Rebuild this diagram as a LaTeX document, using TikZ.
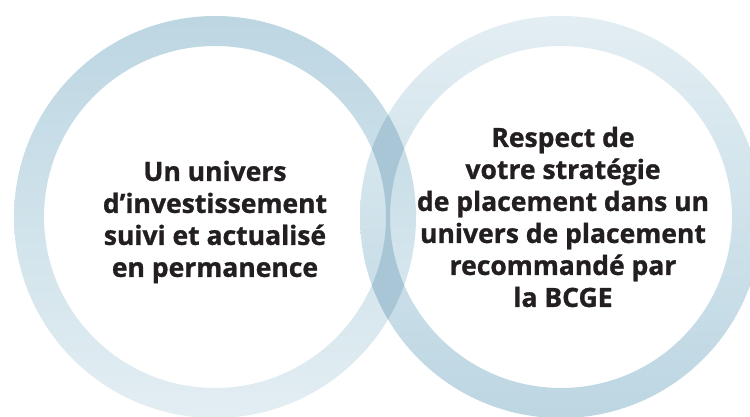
\documentclass[tikz,border=0pt]{standalone}
\usepackage{fontspec}
\setmainfont{Open Sans}[BoldFeatures={FakeBold=1}]
\definecolor{ringdark}{HTML}{BCD6E2}
\definecolor{ringlight}{HTML}{E3EEF3}
\definecolor{overlap}{HTML}{A8C6D5}
\definecolor{txt}{HTML}{231F20}
\tikzset{
  ringshape/.style={even odd rule},
  label/.style={align=center, text=txt, inner sep=0pt,
    font=\bfseries\fontsize{26.5}{32}\selectfont}
}
\begin{document}
\begin{tikzpicture}[x=1pt,y=1pt]
\useasboundingbox (0,0) rectangle (750,417);
\fill[white] (0,0) rectangle (750,417);
\coordinate (cl) at (215,200);
\coordinate (cr) at (561,200);
\shade[ringshape, top color=ringdark, bottom color=ringlight]
  (cl) circle[radius=201] (cl) circle[radius=171];
\shade[ringshape, top color=ringlight, bottom color=ringdark]
  (cr) circle[radius=201] (cr) circle[radius=171];
\begin{scope}[ringshape]
\clip (cl) circle[radius=201] (cl) circle[radius=171];
\fill[overlap] (cr) circle[radius=201] (cr) circle[radius=171];
\end{scope}
\node[label] (left) at (215,195) {Un univers\\d’investissement\\suivi et actualisé\\en permanence};
\node[label] (right) at (563,200) {Respect de\\votre stratégie\\de placement dans un\\univers de placement\\recommandé par\\la BCGE};
\end{tikzpicture}
\end{document}
